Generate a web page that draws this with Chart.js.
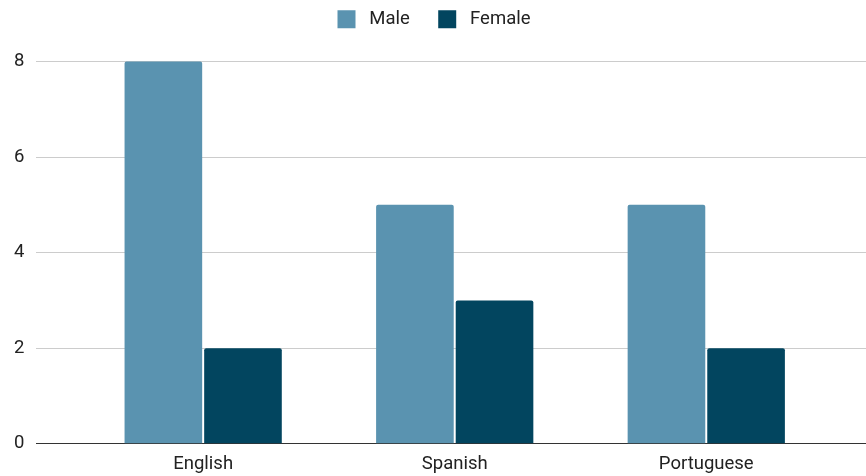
<!DOCTYPE html>
<html>
<head>
<meta charset="utf-8">
<script src="https://cdn.jsdelivr.net/npm/chart.js@4/dist/chart.umd.min.js"></script>
<style>
html,body{margin:0;padding:0;background:#fff;}
#wrap{width:866px;height:476px;position:relative;}
</style>
</head>
<body>
<div id="wrap"><canvas id="c"></canvas></div>
<script>
const categories = ['English', 'Spanish', 'Portuguese'];
const maleValues = [8, 5, 5];
const femaleValues = [2, 3, 2];
const yTicks = [0, 2, 4, 6, 8];

const FONT = 'Roboto, "Liberation Sans", Arial, sans-serif';
const FS = 18.5;
const toPoints = arr => arr.map((v, i) => ({x: i, y: v}));

new Chart(document.getElementById('c'), {
  type: 'bar',
  data: {
    datasets: [
      {label: 'Male', data: toPoints(maleValues), backgroundColor: '#5a93b0', borderRadius: 2, borderSkipped: 'bottom',
       categoryPercentage: 0.633, barPercentage: 0.975},
      {label: 'Female', data: toPoints(femaleValues), backgroundColor: '#02455f', borderRadius: 2, borderSkipped: 'bottom',
       categoryPercentage: 0.633, barPercentage: 0.975}
    ]
  },
  options: {
    responsive: true,
    maintainAspectRatio: false,
    animation: false,
    layout: {padding: {left: 2, right: 0, top: 0, bottom: -8}},
    plugins: {
      legend: {
        position: 'top',
        labels: {
          font: {family: FONT, size: FS},
          color: '#222',
          boxWidth: 18, boxHeight: 18,
          padding: 10,
          generateLabels: chart => {
            const items = Chart.defaults.plugins.legend.labels.generateLabels(chart);
            items.forEach((it, i) => {
              it.text = ' ' + it.text + (i < items.length - 1 ? '    ' : '');
            });
            return items;
          }
        }
      },
      tooltip: {enabled: false}
    },
    scales: {
      x: {
        type: 'linear',
        offset: false,
        min: -0.663,
        max: 2.635,
        grid: {display: false, drawTicks: false},
        border: {display: true, color: '#333', width: 1},
        ticks: {
          stepSize: 1,
          includeBounds: false,
          autoSkip: false,
          maxRotation: 0,
          color: '#222',
          font: {family: FONT, size: FS},
          padding: 9,
          callback: v => Number.isInteger(v) && categories[v] !== undefined ? categories[v] : ''
        }
      },
      y: {
        min: 0,
        max: 8.48,
        afterBuildTicks: s => { s.ticks = yTicks.map(v => ({value: v})); },
        grid: {
          color: ctx => ctx.tick && ctx.tick.value === 0 ? '#333' : '#cccccc',
          drawTicks: false
        },
        border: {display: false},
        ticks: {
          color: '#222',
          font: {family: FONT, size: FS},
          padding: 12
        }
      }
    }
  }
});
</script>
</body>
</html>
